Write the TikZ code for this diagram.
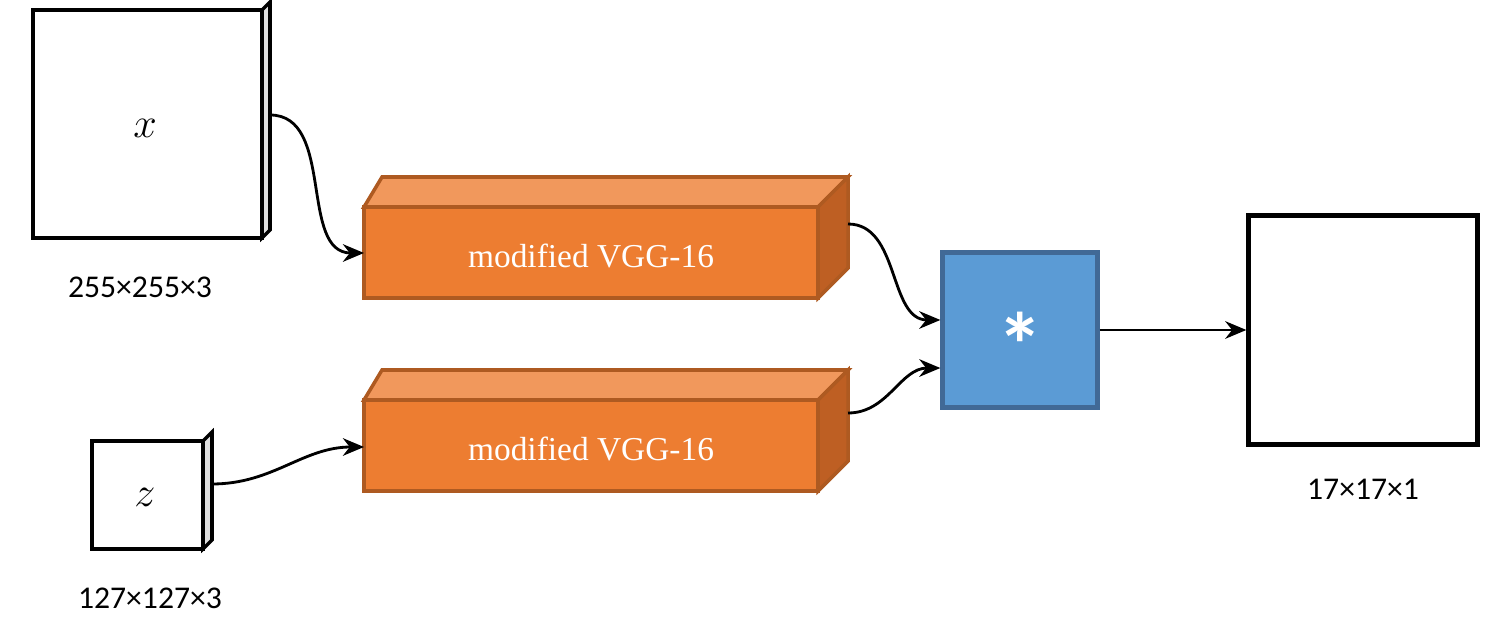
\documentclass[tikz,border=0pt]{standalone}
\usepackage{fontspec}
\setmainfont{Carlito}
\newfontfamily\vggfont{Liberation Serif}
\usetikzlibrary{arrows.meta}
\definecolor{vggorange}{RGB}{237,125,49}
\definecolor{vggtop}{RGB}{241,152,92}
\definecolor{vggside}{RGB}{190,95,35}
\definecolor{vggedge}{RGB}{174,90,33}
\definecolor{convblue}{RGB}{91,155,213}
\definecolor{convedge}{RGB}{65,105,150}
\tikzset{
  flow/.style={thick, -{Stealth[length=6pt,width=5pt]}},
  sizelabel/.style={font=\fontsize{9}{11}\selectfont},
  vgglabel/.style={text=white, font=\vggfont\fontsize{9.5}{11}\selectfont},
}
\begin{document}
\begin{tikzpicture}[x=0.01cm,y=-0.01cm]
\useasboundingbox (0,0) rectangle (1504,625);

%input x
\draw[line width=1.2pt, fill=white] (33,10) rectangle (262,238);
\draw[line width=1pt, fill=gray!25] (262,10) -- (270,2) -- (270,230) -- (262,238) -- cycle;
\node (x) at (145,128) {\large $x$};
\node[sizelabel] (xsize) at (140,287) {255×255×3};
\coordinate (xout) at (270,115);

%input z
\draw[line width=1.2pt, fill=white] (92,441) rectangle (203,549);
\draw[line width=1pt, fill=gray!25] (203,441) -- (212,432) -- (212,540) -- (203,549) -- cycle;
\node (z) at (145,497) {\large $z$};
\node[sizelabel] (zsize) at (150,598) {127×127×3};
\coordinate (zout) at (212,484);

%two VGG blocks
\foreach \y/\n in {207/vggA,400/vggB}{
  \draw[vggedge, line width=1pt, fill=vggtop] (364,\y) -- (382,\y-30) -- (848,\y-30) -- (818,\y) -- cycle;
  \draw[vggedge, line width=1pt, fill=vggside] (818,\y) -- (848,\y-30) -- (848,\y+61) -- (818,\y+91) -- cycle;
  \draw[vggedge, line width=1pt, fill=vggorange] (364,\y) rectangle (818,\y+91);
  \node[vgglabel] (\n) at (591,\y+49) {modified VGG-16};
}
\coordinate (vggAin) at (364,253);
\coordinate (vggAout) at (848,224);
\coordinate (vggBin) at (364,447);
\coordinate (vggBout) at (848,413);

%cross correlation
\node[draw=convedge, line width=1.2pt, fill=convblue, minimum width=155\pgflinewidth, inner sep=0pt,
      minimum size=1.55cm] (conv) at (1020,330) {};
\node[text=white, font=\fontsize{26}{26}\selectfont\bfseries] at (1020,345) {*};

%output
\node[draw, line width=1.2pt, minimum size=2.29cm, inner sep=0pt] (out) at (1363,330) {};
\node[sizelabel] (outsize) at (1363,489) {17×17×1};

%connectors
\draw[flow] (xout) to[out=0,in=180] (vggAin);
\draw[flow] (zout) to[out=0,in=180] (vggBin);
\draw[flow] (vggAout) to[out=0,in=180] ([yshift=0.1cm]conv.west);
\draw[flow] (vggBout) to[out=0,in=180] ([yshift=-0.38cm]conv.west);
\draw[flow] (conv.east) -- (out.west);

\end{tikzpicture}
\end{document}
